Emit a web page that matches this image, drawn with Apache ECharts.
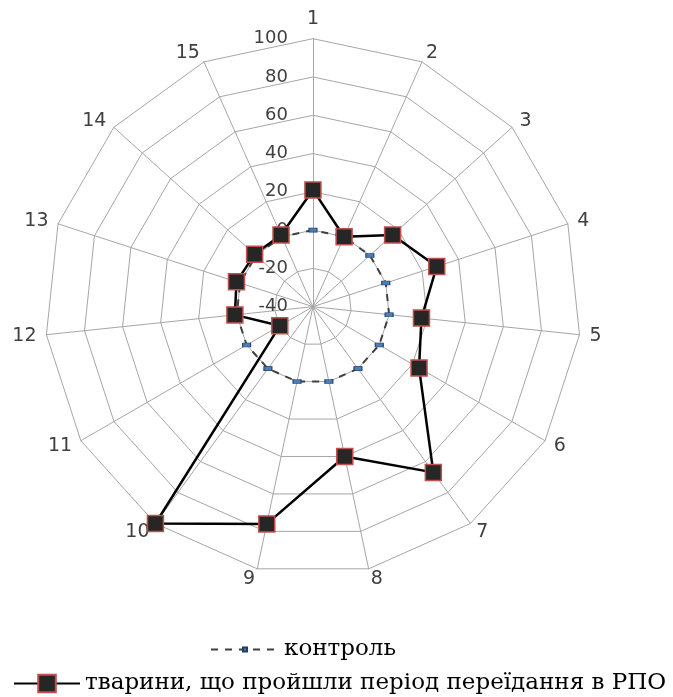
<!DOCTYPE html>
<html><head><meta charset="utf-8">
<script src="https://cdn.jsdelivr.net/npm/echarts@6/dist/echarts.min.js"></script>
<style>html,body{margin:0;padding:0;background:#fff}#c{width:673px;height:697px}</style>
</head><body><div id="c"></div>
<script>
const categories = ['1','2','3','4','5','6','7','8','9','10','11','12','13','14','15'];
const tickLabels = [-40,-20,0,20,40,60,80,100];
const controlName = 'контроль';
const controlValues = [0,0,0,0,0,0,0,0,0,0,0,0,0,0,0];
const rpoName = 'тварини, що пройшли період переїдання в РПО';
const rpoValues = [21,0,16,28,17,24,67,40,76,100,-20,1,2,1,1];

const axisMin = tickLabels[0], axisMax = tickLabels[tickLabels.length-1];
const center = ['46.5%','44%'];
const radius = 268;
// ECharts radar runs counter-clockwise; reorder so categories go clockwise
const order = categories.map((_, i) => i === 0 ? 0 : categories.length - i);
const pick = arr => order.map(i => arr[i]);

const ctrlLine = {color:'#404040', width:2, type:[7,7]};
const ctrlItem = {color:'#4a7ebb', borderColor:'#1f3d66', borderWidth:0.8};
const rpoLine = {color:'#000', width:2.5};
const rpoItem = {color:'#262626', borderColor:'#c0504d', borderWidth:1.5};

const chart = echarts.init(document.getElementById('c'));
chart.setOption({
  animation:false,
  backgroundColor:'#fff',
  grid:{left:0, top:0, width:1, height:1, show:false},
  xAxis:{type:'value', show:false},
  yAxis:{type:'value', show:false},
  radar:{
    center:center, radius:radius, startAngle:90, shape:'polygon',
    splitNumber:tickLabels.length-1,
    indicator: pick(categories).map(c=>({name:c, min:axisMin, max:axisMax})),
    axisName:{color:'#404040', fontSize:19, fontFamily:'DejaVu Sans'},
    nameGap:10,
    splitLine:{lineStyle:{color:'#a6a6a6', width:1}},
    splitArea:{show:false},
    axisLine:{lineStyle:{color:'#a6a6a6', width:1}},
    axisTick:{show:false}, axisLabel:{show:false}
  },
  polar:{center:center, radius:radius},
  angleAxis:{type:'value', startAngle:90, min:0, max:360, show:false},
  radiusAxis:{type:'value', min:axisMin, max:axisMax, interval:20,
    axisLine:{show:false}, axisTick:{show:false}, splitLine:{show:false},
    axisLabel:{color:'#404040', fontSize:18, fontFamily:'DejaVu Sans', margin:25, padding:[7,0,0,0]}
  },
  legend:[
    {data:[controlName], top:633, left:205, itemWidth:68, itemHeight:5, itemGap:4,
     textStyle:{color:'#000', fontSize:23, fontFamily:'DejaVu Serif'}},
    {data:[rpoName], top:667, left:8, itemWidth:66, itemHeight:22, itemGap:4,
     textStyle:{color:'#000', fontSize:23, fontFamily:'DejaVu Serif'}}
  ],
  series:[
    {name:controlName, type:'line', data:[], symbol:'rect', symbolSize:[8,4],
     lineStyle:ctrlLine, itemStyle:ctrlItem},
    {name:rpoName, type:'line', data:[], symbol:'rect', symbolSize:16,
     lineStyle:{color:'#000', width:3.5}, itemStyle:rpoItem},
    {name:controlName, type:'radar', z:3,
     symbol:'rect', symbolSize:[8,4],
     lineStyle:ctrlLine, itemStyle:ctrlItem,
     data:[{value:pick(controlValues), name:controlName}]},
    {name:rpoName, type:'radar', z:4,
     symbol:'rect', symbolSize:16,
     lineStyle:rpoLine, itemStyle:rpoItem,
     data:[{value:pick(rpoValues), name:rpoName}]}
  ]
});
</script></body></html>
